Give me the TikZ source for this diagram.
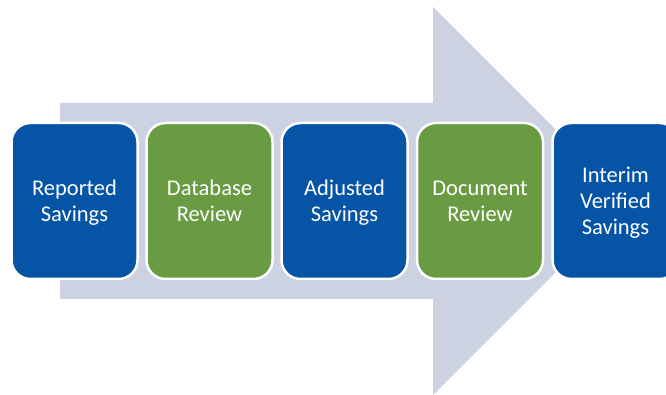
\documentclass[tikz,border=0pt]{standalone}
\usepackage{fontspec}
\setmainfont{Carlito}
\definecolor{boxblue}{HTML}{0554A6}
\definecolor{boxgreen}{HTML}{699B43}
\definecolor{arrowgray}{HTML}{CCD2E2}
\newcommand{\topstrut}{\rule{0pt}{\dimexpr0.7\baselineskip+5pt\relax}}
\begin{document}
\begin{tikzpicture}[x=1pt,y=1pt,
  stage/.style={rectangle, rounded corners=19pt, draw=white, line width=2.5pt,
    minimum width=126pt, minimum height=156pt, align=center, text=white,
    font=\fontsize{22.5}{26}\selectfont, inner sep=0pt},
  bluebox/.style={stage, fill=boxblue},
  greenbox/.style={stage, fill=boxgreen}]
\useasboundingbox (0,0) rectangle (666,395);
\clip (0,0) rectangle (666,395);
\fill[arrowgray] (60,292) -- (433,292) -- (433,388) -- (627,194) -- (433,0) -- (433,96) -- (60,96) -- cycle;
\node[bluebox] (n1) at (74.5,194) {\topstrut Reported\\\strut Savings};
\node[greenbox] (n2) at (209.5,194) {\topstrut Database\\\strut Review};
\node[bluebox] (n3) at (344.5,194) {\topstrut Adjusted\\\strut Savings};
\node[greenbox] (n4) at (480,194) {\topstrut Document\\\strut Review};
\node[bluebox] (n5) at (615.5,194) {\topstrut Interim\\\strut Verified\\\strut Savings};
\end{tikzpicture}
\end{document}
